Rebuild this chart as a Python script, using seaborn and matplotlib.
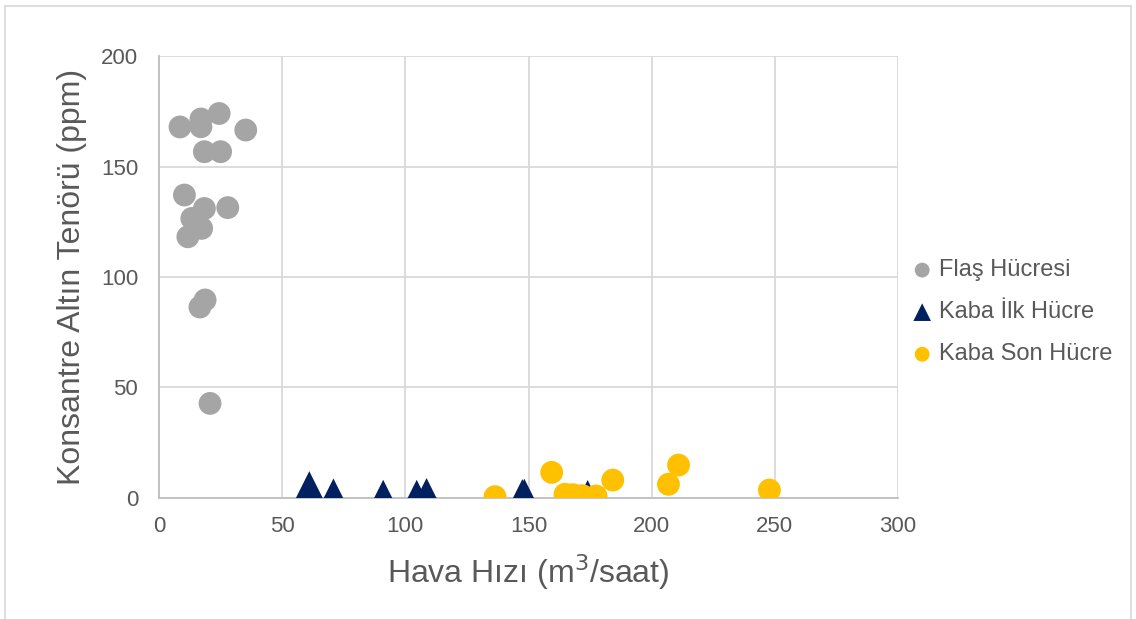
import matplotlib
matplotlib.use("Agg")
import matplotlib.pyplot as plt
import seaborn as sns

# Flaş Hücresi (gray circles)
flas_x = [8.5, 17, 17, 24.4, 35.2, 18.4, 25, 10.3, 18.4, 27.9, 13.3, 17.3, 11.7, 16.6, 18.7, 20.7]
flas_y = [167.9, 171.5, 168, 174, 166.5, 156.7, 156.7, 137.1, 131, 131.4, 126.5, 122, 118.2, 86.4, 89.6, 42.8]

# Kaba İlk Hücre (navy triangles)
ilk_x = [61, 61, 70.8, 91, 104.6, 108.6, 147.5, 148.3, 174]
ilk_y = [6.0, 3.0, 2.7, 2.1, 2.1, 2.9, 2.4, 2.6, 2.0]

# Kaba Son Hücre (yellow circles)
son_x = [136.4, 159.4, 164.8, 168, 170.9, 172, 177.4, 184.2, 210.9, 206.8, 247.8]
son_y = [0.6, 11.6, 1.7, 1.5, 0.9, 1.0, 0.9, 8.1, 14.9, 6.2, 3.6]

sns.set_theme(style="white")
plt.rcParams['font.family'] = ['Liberation Sans', 'DejaVu Sans']

fig = plt.figure(figsize=(11.36, 6.19), dpi=100)
ax = fig.add_axes([0.14, 0.1955, 0.6505, 0.714])

text_col = '#595959'
grid_col = '#d9d9d9'

sns.scatterplot(x=flas_x, y=flas_y, ax=ax, color='#a5a5a5', marker='o', s=270,
                edgecolor='none', label='Flaş Hücresi', zorder=3)
sns.scatterplot(x=ilk_x, y=ilk_y, ax=ax, color='#002060', marker='^', s=380,
                edgecolor='none', label='Kaba İlk Hücre', zorder=4)
sns.scatterplot(x=son_x, y=son_y, ax=ax, color='#ffc000', marker='o', s=270,
                edgecolor='none', label='Kaba Son Hücre', zorder=5)

ax.set_xlim(0, 300)
ax.set_ylim(0, 200)
ax.set_xticks(range(0, 301, 50))
ax.set_yticks(range(0, 201, 50))
ax.grid(True, color=grid_col, linewidth=1.3)
ax.set_axisbelow(True)
for side in ['top', 'right']:
    ax.spines[side].set_visible(False)
for side in ['left', 'bottom']:
    ax.spines[side].set_color('#bfbfbf')
    ax.spines[side].set_linewidth(1.3)
ax.tick_params(axis='x', labelsize=16, colors=text_col, length=0, pad=13)
ax.tick_params(axis='y', labelsize=16, colors=text_col, length=0, pad=15)

ax.set_xlabel('Hava Hızı (m$^3$/saat)', fontsize=23, color=text_col, labelpad=11)
ax.set_ylabel('Konsantre Altın Tenörü (ppm)', fontsize=23, color=text_col, labelpad=10)

leg = ax.legend(loc='center left', bbox_to_anchor=(0.972, 0.42), frameon=False,
                fontsize=17, handletextpad=-0.3, labelspacing=0.85, markerscale=0.65)
for t in leg.get_texts():
    t.set_color(text_col)

# outer chart border
fig.patches.append(plt.Rectangle((0.004, -0.01), 0.992, 1.0, transform=fig.transFigure,
                                 fill=False, edgecolor='#d9d9d9', linewidth=1.2))

fig.savefig('out.png', dpi=100)
